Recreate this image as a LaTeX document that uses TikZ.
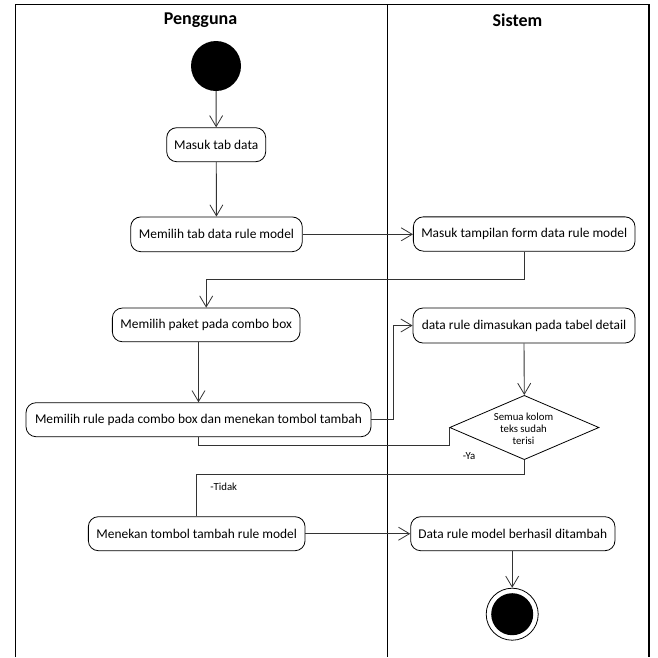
\documentclass[tikz,border=0pt]{standalone}
\usepackage{fontspec}
\setmainfont{Carlito}
\usetikzlibrary{arrows.meta,shapes.geometric}
\begin{document}
\begin{tikzpicture}[x=1pt,y=-1pt,
  act/.style={draw=black,line width=0.8pt,rounded corners=10pt,inner xsep=0pt,inner ysep=0pt,
     font=\fontsize{13.4}{15}\selectfont,anchor=center},
  conn/.style={draw=black!80,line width=0.9pt},
  arr/.style={conn,-{Straight Barb[length=11pt,width=13pt,line width=0.8pt]}},
  lane/.style={draw=black,line width=1.3pt},
  title/.style={font=\fontsize{18}{20}\selectfont\bfseries},
  small/.style={font=\fontsize{10.8}{12.2}\selectfont,inner sep=0pt}]
\useasboundingbox (0,0) rectangle (658,657);
% swimlanes
\draw[lane] (15.3,657) -- (15.3,4.5) -- (649,4.5) -- (649,657);
\draw[lane] (387.3,4.5) -- (387.3,657);
\node[title] (tu) at (200.5,20.5) {Pengguna};
\node[title] (ts) at (517.5,20.5) {Sistem};
% nodes
\node[circle,fill=black,minimum size=50pt,inner sep=0pt] (start) at (216,66) {};
\node[act,minimum width=99pt,minimum height=34pt] (masuk) at (216.2,144.7) {Masuk tab data};
\node[act,minimum width=171.6pt,minimum height=34.7pt] (tabrule) at (216.5,234.3) {Memilih tab data rule model};
\node[act,minimum width=221.7pt,minimum height=34.3pt] (tampil) at (524.2,234) {Masuk tampilan form data rule model};
\node[act,minimum width=187.7pt,minimum height=33.7pt] (paket) at (206.2,324.9) {Memilih paket pada combo box};
\node[act,minimum width=345pt,minimum height=34pt] (rule) at (198.5,419.7) {Memilih rule pada combo box dan menekan tombol tambah};
\node[act,minimum width=222pt,minimum height=35pt] (detail) at (524,325.5) {data rule dimasukan pada tabel detail};
\node[diamond,draw=black,line width=0.8pt,minimum width=149.3pt,minimum height=64.3pt,inner sep=0pt] (dia) at (524.3,427.5) {};
\node[small,align=center] (diatext) at (523.5,428.5) {Semua kolom\\teks sudah\\terisi};
\node[act,minimum width=216.7pt,minimum height=34pt] (menekan) at (196.7,533.7) {Menekan tombol tambah rule model};
\node[act,minimum width=204.3pt,minimum height=34pt] (berhasil) at (512.8,533.7) {Data rule model berhasil ditambah};
\node[circle,draw=black,line width=0.8pt,minimum size=52pt,inner sep=0pt] (end) at (512.2,614.2) {};
\node[circle,fill=black,minimum size=42pt,inner sep=0pt] (endin) at (end.center) {};
% labels
\node[small] (ya) at (469,456) {-Ya};
\node[small] (tidak) at (223.7,486.7) {-Tidak};
% connectors
\draw[arr] (start) -- (masuk);
\draw[arr] (masuk) -- (tabrule);
\draw[arr] (tabrule.east) -- (tampil.west |- tabrule.east);
\draw[arr] (tampil.south) -- ++(0,28) -| (paket.north);
\draw[arr] (paket.south -| rule.north) -- (rule.north);
\draw[arr] (rule.east) -- ++(22.5,0) |- (detail.west);
\draw[arr] (detail.south) -- (dia.north);
\draw[conn] (dia.west) -- ++(0,17.5) -| (rule.south);
\draw[conn] (dia.south) -- ++(0,14) -| (menekan.north);
\draw[arr] (menekan.east) -- (berhasil.west |- menekan.east);
\draw[arr] (berhasil.south -| end.north) -- (end.north);
\end{tikzpicture}
\end{document}
